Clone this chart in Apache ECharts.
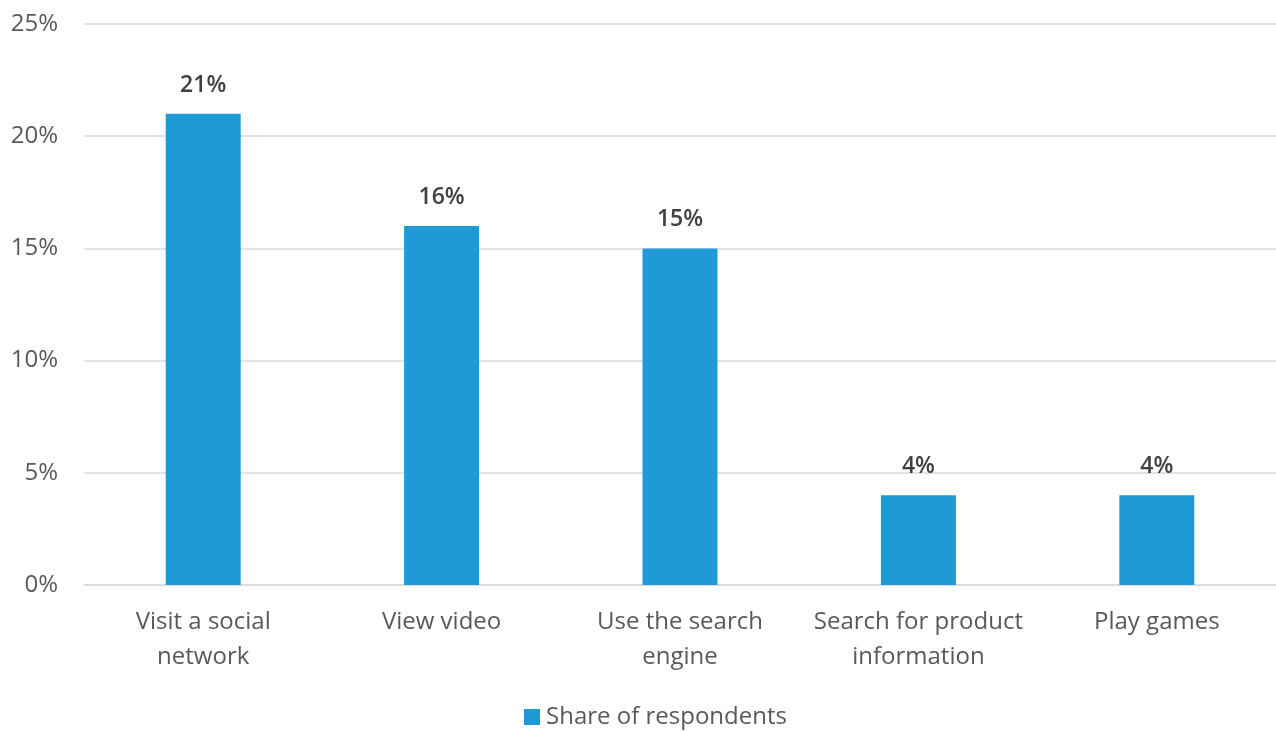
<!DOCTYPE html>
<html><head><meta charset="utf-8">
<script src="https://cdn.jsdelivr.net/npm/echarts@6/dist/echarts.min.js"></script>
<style>html,body{margin:0;padding:0;background:#fff}#c{width:1276px;height:731px}</style>
</head><body><div id="c"></div>
<script>
const categories = ["Visit a social\nnetwork", "View video", "Use the search\nengine", "Search for product\ninformation", "Play games"];
const shareValues = [21, 16, 15, 4, 4];
const seriesName = "Share of respondents";

const chart = echarts.init(document.getElementById('c'), null, {renderer: 'canvas'});
const font = "'Open Sans', sans-serif";
chart.setOption({
  animation: false,
  grid: {left: 84, top: 24, width: 1195, height: 561, containLabel: false},
  legend: {
    top: 705, left: 524, padding: 0, itemGap: 10,
    itemWidth: 16, itemHeight: 16, icon: 'rect',
    textStyle: {color: '#595959', fontSize: 24, fontFamily: font, padding: [0, 0, 0, 1]}
  },
  xAxis: {
    type: 'category', data: categories,
    axisLine: {lineStyle: {color: '#d9d9d9', width: 1.5}},
    axisTick: {show: false},
    axisLabel: {color: '#595959', fontSize: 24, fontFamily: font, lineHeight: 35, margin: 20, interval: 0}
  },
  yAxis: {
    type: 'value', min: 0, max: 25, interval: 5,
    axisLine: {show: false}, axisTick: {show: false},
    splitLine: {lineStyle: {color: '#d9d9d9', width: 1.5}},
    axisLabel: {color: '#595959', fontSize: 24, fontFamily: font, formatter: '{value}%', margin: 26}
  },
  series: [{
    name: seriesName, type: 'bar', data: shareValues, barWidth: 75,
    itemStyle: {color: '#1f9ad6'},
    label: {show: true, position: 'top', distance: 17, formatter: '{c}%', color: '#404040', fontSize: 23, fontWeight: 600, fontFamily: font}
  }]
});
</script></body></html>
